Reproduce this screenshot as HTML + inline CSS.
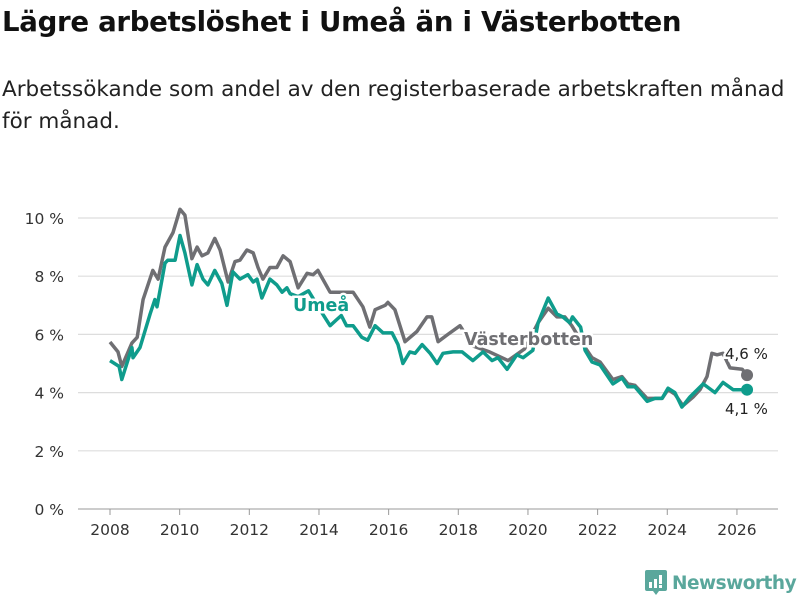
<!DOCTYPE html>
<html><head><meta charset="utf-8">
<style>
body{margin:0;background:#fff;width:800px;height:600px;overflow:hidden;font-family:"DejaVu Sans","Liberation Sans",sans-serif;}
h1{position:absolute;left:2px;top:5px;margin:0;font-size:27.6px;font-weight:bold;color:#111;letter-spacing:-0.3px;white-space:nowrap}
p{position:absolute;left:2px;top:74px;margin:0;font-size:21.5px;line-height:32px;color:#222;width:798px;letter-spacing:0;white-space:nowrap}
svg{position:absolute;left:0;top:0}
</style></head><body>
<h1>Lägre arbetslöshet i Umeå än i Västerbotten</h1>
<p>Arbetssökande som andel av den registerbaserade arbetskraften månad<br>för månad.</p>
<svg width="800" height="600" id="chart"></svg>
<div style="position:absolute;left:645px;top:570px;display:flex;align-items:center">
<svg width="22" height="26" style="position:static"><path d="M0 2 Q0 0 2 0 H20 Q22 0 22 2 V19 Q22 21 20 21 H14 L11 25 L8 21 H2 Q0 21 0 19Z" fill="#5aa79c"/><rect x="4" y="12" width="3" height="6" fill="#fff"/><rect x="9" y="9" width="3" height="9" fill="#fff"/><rect x="14" y="5" width="3" height="9" fill="#fff"/><rect x="14" y="15" width="3" height="3" fill="#fff"/></svg>
<span style="margin-left:5px;font-size:18.5px;color:#5aa79c;font-weight:bold;letter-spacing:-0.5px">Newsworthy</span></div>
<script>
const yTicks=[0,2,4,6,8,10];
const xTicks=[2008,2010,2012,2014,2016,2018,2020,2022,2024,2026];
const vbYears=[0,0.23,0.34,0.63,0.78,0.95,1.23,1.38,1.58,1.81,2.01,2.15,2.35,2.5,2.64,2.81,3.01,3.16,3.39,3.59,3.73,3.93,4.11,4.25,4.39,4.59,4.79,4.97,5.17,5.4,5.66,5.83,5.97,6.32,6.98,7.26,7.46,7.61,7.9,7.98,8.18,8.47,8.81,9.1,9.24,9.42,9.7,10.05,10.42,10.9,11.43,11.9,12.29,12.58,12.83,13.06,13.26,13.64,13.84,14.07,14.44,14.7,14.87,15.07,15.42,15.65,15.85,16.02,16.22,16.45,16.74,16.94,17.14,17.28,17.43,17.6,17.8,18.15,18.29];
const vbValues=[5.74,5.4,4.9,5.7,5.9,7.2,8.2,7.9,9.0,9.5,10.3,10.1,8.6,9.0,8.7,8.8,9.3,8.9,7.8,8.5,8.55,8.9,8.8,8.3,7.9,8.3,8.3,8.7,8.5,7.6,8.1,8.05,8.2,7.45,7.45,6.95,6.25,6.85,7.0,7.1,6.85,5.75,6.1,6.6,6.6,5.75,6.0,6.3,5.6,5.4,5.1,5.5,6.4,6.9,6.6,6.6,6.3,5.55,5.2,5.05,4.45,4.55,4.3,4.25,3.8,3.8,3.8,4.1,3.95,3.55,3.85,4.1,4.55,5.35,5.3,5.35,4.85,4.8,4.6];
const umYears=[0,0.26,0.34,0.63,0.66,0.86,1.15,1.29,1.35,1.58,1.66,1.87,2.01,2.15,2.35,2.5,2.67,2.81,3.01,3.21,3.36,3.53,3.73,3.96,4.11,4.22,4.36,4.59,4.79,4.94,5.08,5.17,5.4,5.7,6.0,6.32,6.5,6.64,6.79,6.98,7.23,7.4,7.61,7.84,8.1,8.27,8.41,8.61,8.76,8.96,9.19,9.39,9.56,9.85,10.11,10.42,10.71,10.97,11.14,11.4,11.68,11.86,12.14,12.29,12.58,12.83,13.0,13.2,13.28,13.51,13.64,13.84,14.07,14.44,14.7,14.87,15.07,15.42,15.65,15.85,16.02,16.22,16.42,16.65,17.03,17.37,17.6,17.89,18.29];
const umValues=[5.1,4.9,4.45,5.55,5.2,5.55,6.7,7.2,6.95,8.45,8.55,8.55,9.4,8.8,7.7,8.4,7.9,7.7,8.2,7.75,7.0,8.15,7.9,8.05,7.8,7.9,7.25,7.9,7.7,7.45,7.6,7.4,7.3,7.5,6.9,6.3,6.5,6.65,6.3,6.3,5.9,5.8,6.3,6.05,6.05,5.65,5.0,5.4,5.35,5.65,5.35,5.0,5.35,5.4,5.4,5.1,5.4,5.1,5.2,4.8,5.3,5.2,5.45,6.4,7.25,6.7,6.6,6.4,6.6,6.25,5.45,5.05,4.95,4.3,4.5,4.2,4.2,3.7,3.8,3.8,4.15,4.0,3.5,3.85,4.3,4.0,4.35,4.1,4.1];
const NS="http://www.w3.org/2000/svg";
const svg=document.getElementById('chart');
const X=y=>110+(y-2008)*34.83;
const XO=o=>X(2008+o);
const Y=v=>509-v*29.1;
function mk(t,a){const e=document.createElementNS(NS,t);for(const k in a)e.setAttribute(k,a[k]);svg.appendChild(e);return e;}
yTicks.forEach(v=>{
  const l=mk('line',{x1:78,x2:778,y1:Y(v),y2:Y(v),stroke:v===0?'#bbb':'#ddd','stroke-width':v===0?1.5:1.2});
  
  
  const t=mk('text',{x:64,y:Y(v)+6,'text-anchor':'end','font-size':15.5,fill:'#333','font-family':'DejaVu Sans, Liberation Sans, sans-serif'});
  t.textContent=v+' %';
  
  
});
xTicks.forEach(y=>{
  const l=mk('line',{x1:X(y),x2:X(y),y1:509,y2:515,stroke:'#999','stroke-width':1});
  
  
  const t=mk('text',{x:X(y),y:535,'text-anchor':'middle','font-size':15.5,fill:'#333','font-family':'DejaVu Sans, Liberation Sans, sans-serif'});
  t.textContent=y;
  
  
});
function line(ys,vs,c,name){
  const d=ys.map((o,i)=>(i?'L':'M')+XO(o).toFixed(1)+' '+Y(vs[i]).toFixed(1)).join(' ');
  const p=mk('path',{d:d,fill:'none',stroke:c,'stroke-width':3.5,'stroke-linejoin':'round'});
  
  
  const n=ys.length-1;
  const c2=mk('circle',{cx:XO(ys[n]),cy:Y(vs[n]),r:6,fill:c});
  
  
}
line(vbYears,vbValues,'#6f6f73','vasterbotten-line');
line(umYears,umValues,'#0f9c8c','umea-line');
function lab(x,y,txt,c,name,fs,w,halo){
  const t=mk('text',{x:x,y:y,'font-size':fs,'font-weight':w,fill:c,stroke:halo?'#fff':'none','stroke-width':halo?5:0,'paint-order':'stroke','font-family':'DejaVu Sans, Liberation Sans, sans-serif'});
  t.textContent=txt;
  
  
}
lab(293,311,'Umeå','#0f9c8c','umea-label',17.5,'bold',true);
lab(464,345,'Västerbotten','#6f6f73','vasterbotten-label',17.5,'bold',true);
lab(725,359,'4,6 %','#222','vasterbotten-end-value',15,'normal',true);
lab(725,414,'4,1 %','#222','umea-end-value',15,'normal',true);
</script>
</body></html>
